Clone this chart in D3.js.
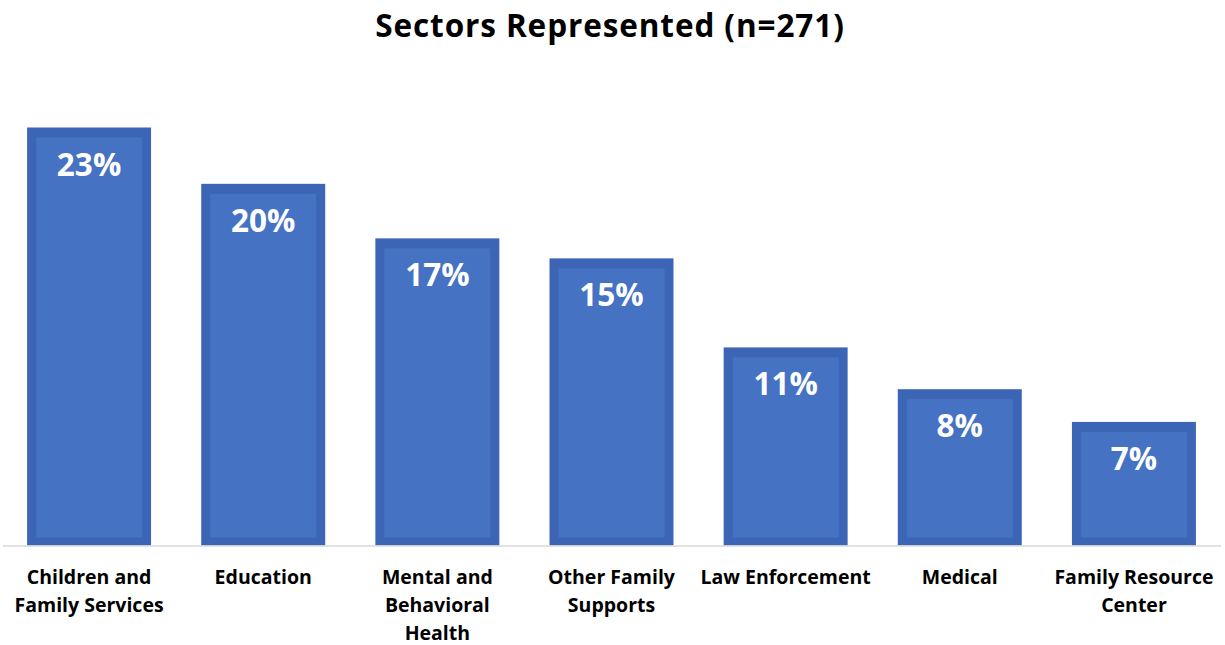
<!DOCTYPE html>
<html><head><meta charset="utf-8">
<script src="https://cdn.jsdelivr.net/npm/d3@7"></script>
<style>body{margin:0;background:#fff}svg{display:block}</style>
</head><body>
<svg id="c" width="1225" height="645"></svg>
<script>
const categories = ["Children and|Family Services","Education","Mental and|Behavioral|Health","Other Family|Supports","Law Enforcement","Medical","Family Resource|Center"];
const values = [23.0, 19.9, 16.9, 15.8, 10.9, 8.6, 6.8];
const valueLabels = ["23%","20%","17%","15%","11%","8%","7%"];
const title = "Sectors Represented (n=271)";

const svg = d3.select("#c");
const font = "'Open Sans', Lato, sans-serif";
const baseY = 545.5;
const x = d3.scaleBand().domain(categories).range([2,1221]).paddingInner(0.288).paddingOuter(0.144);
const y = d3.scaleLinear().domain([0,23]).range([baseY, 127.5]);

svg.append("text").attr("x",610).attr("y",37).attr("text-anchor","middle")
  .attr("font-family",font).attr("font-weight",700).attr("font-size",31.5).attr("fill","#000")
  .attr("letter-spacing","0.9px").text(title);

const g = svg.append("g");
const inset = 9;
g.selectAll("rect.outer").data(categories).join("rect").attr("class","outer")
  .attr("x",d=>x(d)).attr("y",(d,i)=>y(values[i])).attr("width",x.bandwidth())
  .attr("height",(d,i)=>baseY-y(values[i])).attr("fill","#3c66b5");
g.selectAll("rect.inner").data(categories).join("rect").attr("class","inner")
  .attr("x",d=>x(d)+inset).attr("y",(d,i)=>y(values[i])+inset+1).attr("width",x.bandwidth()-2*inset)
  .attr("height",(d,i)=>Math.max(0,baseY-y(values[i])-2*inset)).attr("fill","#4572c3");

g.selectAll("text.val").data(categories).join("text").attr("class","val")
  .attr("x",d=>x(d)+x.bandwidth()/2).attr("y",(d,i)=>y(values[i])+48)
  .attr("text-anchor","middle").attr("font-family",font).attr("font-weight",700)
  .attr("font-size",31.5).attr("fill","#fff").text((d,i)=>valueLabels[i]);

svg.append("line").attr("x1",3).attr("x2",1221).attr("y1",baseY+0.5).attr("y2",baseY+0.5)
  .attr("stroke","#d9d9d9").attr("stroke-width",1.5);

const xAxis = d3.axisBottom(x).tickSize(0).tickFormat("");
const ax = svg.append("g").attr("transform",`translate(0,${baseY})`).call(xAxis);
ax.select(".domain").remove();
ax.selectAll(".tick").each(function(d){
  const lines = d.split("|");
  const t = d3.select(this).append("text").attr("fill","#000").attr("font-family",font)
    .attr("font-weight",700).attr("font-size",19.5).attr("text-anchor","middle");
  lines.forEach((l,k)=>t.append("tspan").attr("x",0).attr("y",38.5+k*27.8).text(l));
});
</script>
</body></html>
